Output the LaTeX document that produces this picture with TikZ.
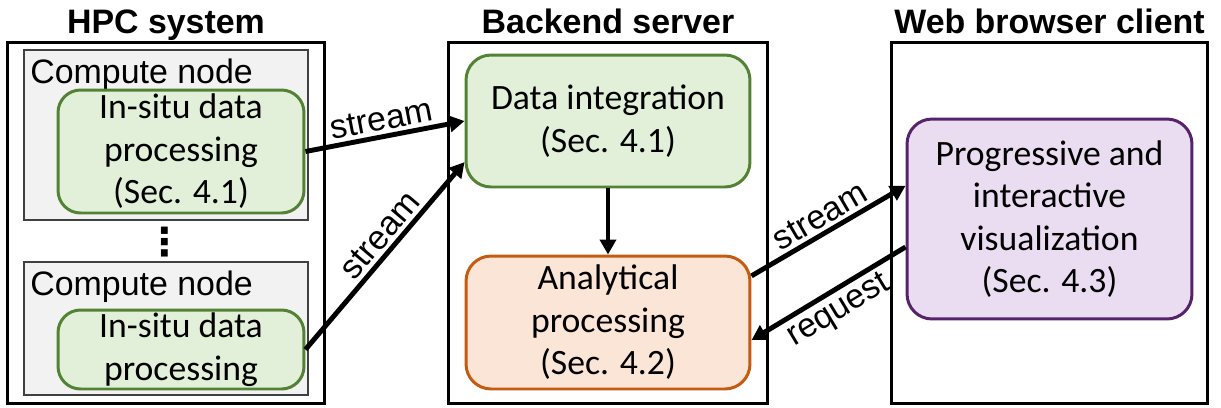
\documentclass[tikz,border=0pt]{standalone}
\usepackage{fontspec}
\setmainfont{Liberation Sans}
\newfontfamily\calibrifont{Carlito}
\newfontfamily\dotsfont{DejaVu Sans}
\usetikzlibrary{positioning,arrows.meta}

\definecolor{cngray}{HTML}{F2F2F2}
\definecolor{greenline}{HTML}{548235}
\definecolor{greenfill}{HTML}{E2F0D9}
\definecolor{orangeline}{HTML}{C55A11}
\definecolor{orangefill}{HTML}{FBE5D6}
\definecolor{purpleline}{HTML}{56236B}
\definecolor{purplefill}{HTML}{EBDDF1}

\begin{document}
\begin{tikzpicture}[x=0.02cm, y=0.02cm,
            every node/.style={font=\fontsize{19.3}{24}\selectfont},
            tier/.style={draw, line width=1.7pt, minimum height=7.24cm},
            tiertitle/.style={font=\fontsize{19.3}{24}\selectfont\bfseries, inner sep=0pt, text depth=0.25em},
            cnode/.style={draw=black!75, fill=cngray, line width=1pt, minimum width=5.68cm},
            task/.style={rounded corners=0.45cm, line width=1.7pt, align=center, inner sep=0pt,
                    font=\calibrifont\fontsize{20.3}{24.2}\selectfont},
            greentask/.style={task, draw=greenline, fill=greenfill},
            flow/.style={line width=2.8pt, -{Triangle[length=0.3cm,width=0.32cm]}},
            flowlabel/.style={sloped, inner sep=2pt}]
        \useasboundingbox (0,0) rectangle (1221,-407);

        % HPC system
        \node[tier, minimum width=6.36cm] (hpc) at (166,-223) {};
        \node[tiertitle, above=0.04cm of hpc] (hpctitle) {HPC system};
        \node[cnode, minimum height=3.4cm] (cn1) at (166,-135) {};
        \node[anchor=base west, inner sep=0pt] (cn1label) at (30,-83) {Compute node};
        \node[greentask, minimum width=4.92cm, minimum height=2.46cm] (insitu1) at (181,-151.5)
            {In-situ data\\processing\\(Sec. 4.1)};
        \node[font=\dotsfont\bfseries\fontsize{22}{22}\selectfont, inner sep=0pt] (dots) at (165,-242) {⋮};
        \node[cnode, minimum height=2.66cm] (cn2) at (166,-328.5) {};
        \node[anchor=base west, inner sep=0pt] (cn2label) at (30,-295) {Compute node};
        \node[greentask, minimum width=4.92cm, minimum height=1.58cm] (insitu2) at (181,-349.5)
            {In-situ data\\processing};

        % backend server
        \node[tier, minimum width=6.4cm] (backend) at (608,-223) {};
        \node[tiertitle, above=0.04cm of backend] (backendtitle) {Backend server};
        \node[greentask, rounded corners=0.5cm, minimum width=5.68cm, minimum height=2.64cm] (integ) at (608,-121)
            {Data integration\\(Sec. 4.1)};
        \node[task, draw=orangeline, fill=orangefill, rounded corners=0.5cm, minimum width=5.68cm, minimum height=2.66cm] (analyt) at (608,-322.5)
            {Analytical\\processing\\(Sec. 4.2)};

        % browser
        \node[tier, minimum width=6.34cm] (web) at (1049.5,-223) {};
        \node[tiertitle, above=0.04cm of web] (webtitle) {Web browser client};
        \node[task, draw=purpleline, fill=purplefill, rounded corners=0.5cm, minimum width=5.7cm, minimum height=4cm] (vis) at (1049.5,-219)
            {Progressive and\\interactive\\visualization\\(Sec. 4.3)};

        % data flow
        \draw[flow] (insitu1.east) -- node[flowlabel, above] {stream} (integ.west);
        \draw[flow] (insitu2.east) -- node[flowlabel, above, pos=0.55] {stream} (integ.196);
        \draw[flow] (integ.south) -- (analyt.north);
        \draw[flow] (analyt.18) -- node[flowlabel, above] {stream} (vis.167);
        \draw[flow] (vis.191) -- node[flowlabel, below] {request} (analyt.353);
    \end{tikzpicture}
\end{document}
